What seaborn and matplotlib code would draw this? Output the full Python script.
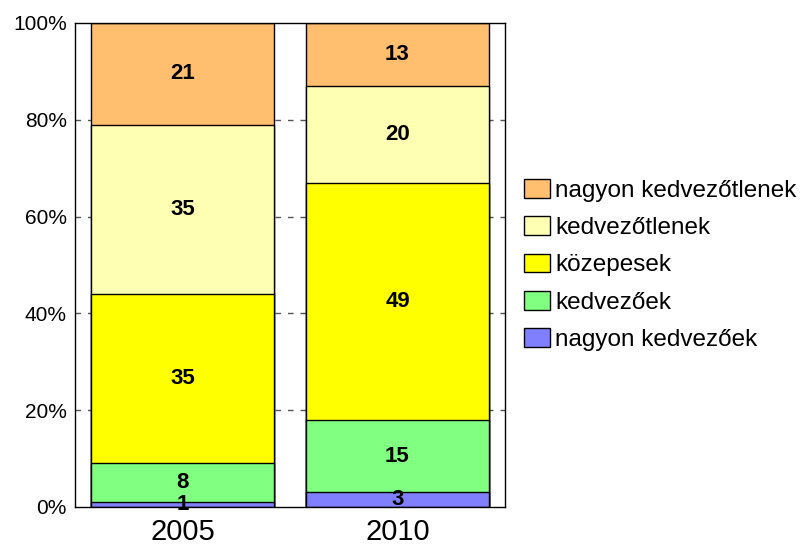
import numpy as np
import pandas as pd
import matplotlib
matplotlib.use("Agg")
import matplotlib.pyplot as plt
import seaborn as sns
from matplotlib.patches import Patch

# data (percent)
years = ["2005", "2010"]
categories = ["nagyon kedvezőek", "kedvezőek", "közepesek", "kedvezőtlenek", "nagyon kedvezőtlenek"]
v_nagyon_kedvezo = [1, 3]
v_kedvezo = [8, 15]
v_kozepes = [35, 49]
v_kedvezotlen = [35, 20]
v_nagyon_kedvezotlen = [21, 13]
colors = ["#8080FF", "#80FF80", "#FFFF00", "#FFFFB3", "#FFBF6F"]
yticks = [0, 20, 40, 60, 80, 100]

sns.set_style("white")
plt.rcParams['font.family'] = ['Liberation Sans', 'DejaVu Sans']
plt.rcParams['text.color'] = 'black'
plt.rcParams['xtick.color'] = 'black'
plt.rcParams['ytick.color'] = 'black'

values = np.array([v_nagyon_kedvezo, v_kedvezo, v_kozepes, v_kedvezotlen, v_nagyon_kedvezotlen])
cum = values.cumsum(axis=0)
rows = []
for i, cat in enumerate(categories):
    for j, yr in enumerate(years):
        rows.append({'year': yr, 'category': cat, 'value': values[i, j],
                     'bottom': cum[i, j] - values[i, j], 'top': cum[i, j]})
df = pd.DataFrame(rows)

fig = plt.figure(figsize=(8.05, 5.47), dpi=100)
ax = fig.add_axes([75 / 805, 1 - 507 / 547, 430 / 805, 484 / 547])

# stacked bars: draw cumulative totals from the top layer down
for i in range(len(categories) - 1, -1, -1):
    sub = df[df['category'] == categories[i]]
    sns.barplot(data=sub, x='year', y='top', order=years, color=colors[i],
                saturation=1, width=0.85, edgecolor='black', linewidth=1.0,
                errorbar=None, ax=ax, zorder=2)

# value labels centered in each segment
for _, r in df.iterrows():
    x = years.index(r['year'])
    ax.text(x, (r['bottom'] + r['top']) / 2, f"{r['value']:d}", ha='center', va='center',
            fontsize=16, fontweight='bold', color='black', zorder=5)

ax.set_xlim(-0.5, 1.5)
ax.set_ylim(0, 100)
ax.set_yticks(yticks)
ax.set_yticklabels([f"{t}%" for t in yticks], fontsize=15)
ax.tick_params(axis='both', length=0, pad=6)
ax.tick_params(axis='x', labelsize=21, pad=8)
ax.set_xlabel("")
ax.set_ylabel("")
for y in yticks[1:-1]:
    ax.axhline(y, color='#555555', lw=1.0, ls=(0, (4, 5)), zorder=0)
for s in ax.spines.values():
    s.set_color('black')
    s.set_linewidth(1.0)
    s.set_visible(True)

handles = [Patch(facecolor=colors[i], edgecolor='black', linewidth=1.0, label=categories[i])
           for i in range(len(categories) - 1, -1, -1)]
fig.legend(handles=handles, loc='center left', bbox_to_anchor=(514 / 805, 1 - 265 / 547),
           frameon=False, fontsize=17.5, handlelength=1.1, handleheight=0.8,
           handletextpad=0.2, labelspacing=0.6, borderaxespad=0)

fig.savefig("out.png", dpi=100)
